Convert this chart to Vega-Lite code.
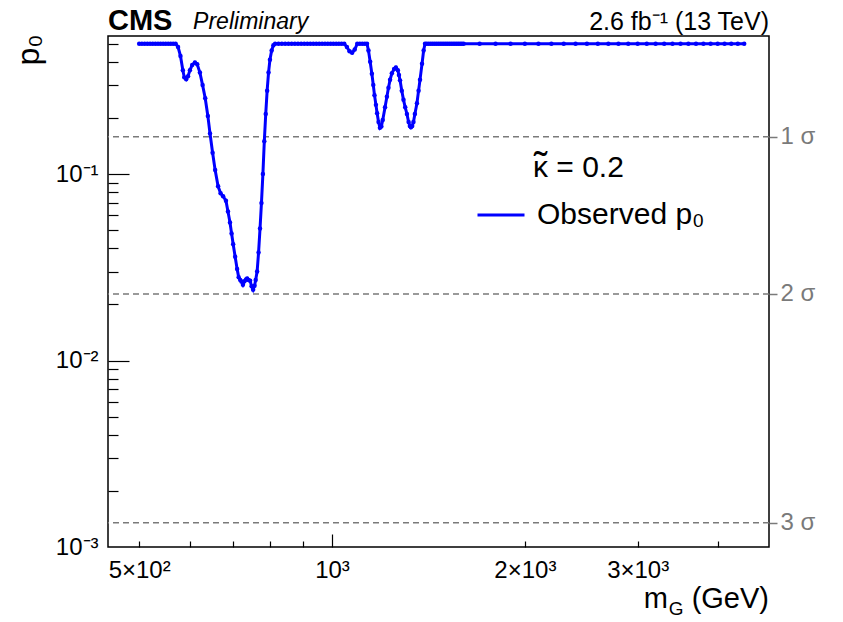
{
  "$schema": "https://vega.github.io/schema/vega-lite/v6.json",
  "width": 661,
  "height": 511,
  "autosize": {"type": "none"},
  "padding": {"left": 108, "top": 36, "right": 74, "bottom": 75},
  "background": "white",
  "config": {
    "font": "Liberation Sans",
    "view": {"stroke": "#000", "strokeWidth": 1.5},
    "axis": {"grid": false, "domain": false, "labelColor": "#000", "titleColor": "#000", "tickColor": "#000", "tickWidth": 1.2}
  },
  "datasets": {
    "obs": [
      {"m": 500, "p": 0.5}, {"m": 505, "p": 0.5}, {"m": 510, "p": 0.5}, {"m": 515, "p": 0.5}, {"m": 520, "p": 0.5},
      {"m": 525, "p": 0.5}, {"m": 530, "p": 0.5}, {"m": 535, "p": 0.5}, {"m": 540, "p": 0.5}, {"m": 545, "p": 0.5},
      {"m": 550, "p": 0.5}, {"m": 555, "p": 0.5}, {"m": 560, "p": 0.5}, {"m": 565, "p": 0.5}, {"m": 570, "p": 0.5},
      {"m": 575, "p": 0.48}, {"m": 580, "p": 0.43}, {"m": 585, "p": 0.36}, {"m": 588, "p": 0.33}, {"m": 592, "p": 0.322},
      {"m": 596, "p": 0.335}, {"m": 600, "p": 0.36}, {"m": 605, "p": 0.385}, {"m": 611, "p": 0.397}, {"m": 616, "p": 0.388},
      {"m": 622, "p": 0.35}, {"m": 628, "p": 0.3}, {"m": 634, "p": 0.255}, {"m": 640, "p": 0.205}, {"m": 645, "p": 0.165},
      {"m": 651, "p": 0.13}, {"m": 657, "p": 0.105}, {"m": 664, "p": 0.086}, {"m": 670, "p": 0.079}, {"m": 676, "p": 0.076},
      {"m": 683, "p": 0.072}, {"m": 688, "p": 0.063}, {"m": 693, "p": 0.055}, {"m": 697, "p": 0.048}, {"m": 701, "p": 0.042},
      {"m": 706, "p": 0.036}, {"m": 711, "p": 0.031}, {"m": 715, "p": 0.028}, {"m": 719, "p": 0.027}, {"m": 722, "p": 0.0265},
      {"m": 726, "p": 0.0255}, {"m": 730, "p": 0.0266}, {"m": 734, "p": 0.0272}, {"m": 737, "p": 0.0275}, {"m": 741, "p": 0.027},
      {"m": 745, "p": 0.0268}, {"m": 749, "p": 0.025}, {"m": 753, "p": 0.024}, {"m": 757, "p": 0.0252}, {"m": 760, "p": 0.027},
      {"m": 764, "p": 0.03}, {"m": 768, "p": 0.038}, {"m": 772, "p": 0.051}, {"m": 776, "p": 0.07}, {"m": 780, "p": 0.1},
      {"m": 784, "p": 0.15}, {"m": 788, "p": 0.21}, {"m": 792, "p": 0.28}, {"m": 796, "p": 0.35}, {"m": 800, "p": 0.41},
      {"m": 805, "p": 0.46}, {"m": 810, "p": 0.49}, {"m": 815, "p": 0.5},
      {"m": 825, "p": 0.5}, {"m": 835, "p": 0.5}, {"m": 845, "p": 0.5}, {"m": 855, "p": 0.5}, {"m": 865, "p": 0.5},
      {"m": 875, "p": 0.5}, {"m": 885, "p": 0.5}, {"m": 895, "p": 0.5}, {"m": 905, "p": 0.5}, {"m": 915, "p": 0.5},
      {"m": 925, "p": 0.5}, {"m": 935, "p": 0.5}, {"m": 945, "p": 0.5}, {"m": 955, "p": 0.5}, {"m": 965, "p": 0.5},
      {"m": 975, "p": 0.5}, {"m": 985, "p": 0.5}, {"m": 995, "p": 0.5}, {"m": 1005, "p": 0.5}, {"m": 1015, "p": 0.5},
      {"m": 1025, "p": 0.5}, {"m": 1035, "p": 0.5}, {"m": 1045, "p": 0.5},
      {"m": 1055, "p": 0.48}, {"m": 1065, "p": 0.455}, {"m": 1075, "p": 0.447}, {"m": 1085, "p": 0.465}, {"m": 1095, "p": 0.5},
      {"m": 1105, "p": 0.5}, {"m": 1115, "p": 0.5}, {"m": 1125, "p": 0.5}, {"m": 1134, "p": 0.5},
      {"m": 1140, "p": 0.46}, {"m": 1147, "p": 0.4}, {"m": 1154, "p": 0.345}, {"m": 1160, "p": 0.3}, {"m": 1165, "p": 0.265},
      {"m": 1171, "p": 0.235}, {"m": 1176, "p": 0.212}, {"m": 1182, "p": 0.19}, {"m": 1188, "p": 0.177}, {"m": 1194, "p": 0.18},
      {"m": 1200, "p": 0.195}, {"m": 1210, "p": 0.228}, {"m": 1218, "p": 0.26}, {"m": 1225, "p": 0.29}, {"m": 1232, "p": 0.32},
      {"m": 1240, "p": 0.347}, {"m": 1250, "p": 0.366}, {"m": 1258, "p": 0.373}, {"m": 1267, "p": 0.36}, {"m": 1272, "p": 0.34},
      {"m": 1277, "p": 0.318}, {"m": 1285, "p": 0.28}, {"m": 1293, "p": 0.25}, {"m": 1301, "p": 0.228}, {"m": 1309, "p": 0.21},
      {"m": 1317, "p": 0.19}, {"m": 1323, "p": 0.181}, {"m": 1328, "p": 0.178}, {"m": 1334, "p": 0.181}, {"m": 1340, "p": 0.19},
      {"m": 1347, "p": 0.21}, {"m": 1357, "p": 0.24}, {"m": 1365, "p": 0.28}, {"m": 1372, "p": 0.32}, {"m": 1382, "p": 0.39},
      {"m": 1390, "p": 0.46}, {"m": 1397, "p": 0.5},
      {"m": 1405, "p": 0.5}, {"m": 1415, "p": 0.5}, {"m": 1425, "p": 0.5}, {"m": 1435, "p": 0.5}, {"m": 1445, "p": 0.5},
      {"m": 1455, "p": 0.5}, {"m": 1465, "p": 0.5}, {"m": 1475, "p": 0.5}, {"m": 1485, "p": 0.5}, {"m": 1495, "p": 0.5},
      {"m": 1505, "p": 0.5}, {"m": 1515, "p": 0.5}, {"m": 1525, "p": 0.5}, {"m": 1535, "p": 0.5}, {"m": 1545, "p": 0.5},
      {"m": 1555, "p": 0.5}, {"m": 1565, "p": 0.5}, {"m": 1575, "p": 0.5}, {"m": 1585, "p": 0.5}, {"m": 1595, "p": 0.5},
      {"m": 1605, "p": 0.5},
      {"m": 1700, "p": 0.5}, {"m": 1800, "p": 0.5}, {"m": 1900, "p": 0.5}, {"m": 2000, "p": 0.5}, {"m": 2100, "p": 0.5},
      {"m": 2200, "p": 0.5}, {"m": 2300, "p": 0.5}, {"m": 2400, "p": 0.5}, {"m": 2500, "p": 0.5}, {"m": 2600, "p": 0.5},
      {"m": 2700, "p": 0.5}, {"m": 2800, "p": 0.5}, {"m": 2900, "p": 0.5}, {"m": 3000, "p": 0.5}, {"m": 3100, "p": 0.5},
      {"m": 3200, "p": 0.5}, {"m": 3300, "p": 0.5}, {"m": 3400, "p": 0.5}, {"m": 3500, "p": 0.5}, {"m": 3600, "p": 0.5},
      {"m": 3700, "p": 0.5}, {"m": 3800, "p": 0.5}, {"m": 3900, "p": 0.5}, {"m": 4000, "p": 0.5}, {"m": 4100, "p": 0.5},
      {"m": 4200, "p": 0.5}, {"m": 4300, "p": 0.5}, {"m": 4400, "p": 0.5}
    ],
    "sigma": [
      {"p": 0.158655, "label": "1 σ"},
      {"p": 0.02275, "label": "2 σ"},
      {"p": 0.0013499, "label": "3 σ"}
    ],
    "one": [{}]
  },
  "layer": [
    {
      "data": {"name": "sigma"},
      "mark": {"type": "rule", "strokeDash": [6, 4], "strokeWidth": 1.5, "color": "#7a7a7a"},
      "encoding": {
        "y": {
          "field": "p", "type": "quantitative",
          "scale": {"type": "log", "domain": [0.001, 0.55], "nice": false},
          "axis": {
            "orient": "right", "values": [0.158655, 0.02275, 0.0013499],
            "labelExpr": "datum.value > 0.1 ? '1 σ' : (datum.value > 0.01 ? '2 σ' : '3 σ')",
            "title": null, "tickSize": 8, "tickWidth": 1.5, "tickColor": "#7a7a7a",
            "labelColor": "#7a7a7a", "labelFontSize": 24, "labelPadding": 3
          }
        }
      }
    },
    {
      "data": {"name": "obs"},
      "mark": {"type": "line", "strokeWidth": 3},
      "encoding": {
        "x": {
          "field": "m", "type": "quantitative",
          "scale": {"type": "log", "domain": [447, 4810], "nice": false},
          "axis": {
            "orient": "bottom", "values": [500, 1000, 2000, 3000],
            "labelExpr": "datum.value < 700 ? '5×10²' : (datum.value < 1500 ? '10³' : (datum.value < 2500 ? '2×10³' : '3×10³'))",
            "ticks": false, "labelFontSize": 24, "labelPadding": 11, "title": null
          }
        },
        "y": {
          "field": "p", "type": "quantitative",
          "scale": {"type": "log", "domain": [0.001, 0.55], "nice": false},
          "axis": {
            "orient": "left", "values": [0.1, 0.01, 0.001],
            "labelExpr": "datum.value > 0.05 ? '10⁻¹' : (datum.value > 0.005 ? '10⁻²' : '10⁻³')",
            "ticks": false, "labelFontSize": 24, "labelPadding": 10,
            "title": "p₀", "titleFontSize": 32, "titleFontWeight": "normal",
            "titleAngle": -90, "titleAlign": "right", "titleBaseline": "middle", "titleX": -80, "titleY": -2
          }
        },
        "color": {
          "datum": "Observed p₀",
          "scale": {"domain": ["Observed p₀"], "range": ["#0000ff"]},
          "legend": {
            "orient": "none", "legendX": 368, "legendY": 154, "title": null, "padding": 0,
            "symbolType": "stroke", "symbolSize": 2209, "symbolStrokeWidth": 3,
            "labelFontSize": 30, "labelOffset": 11, "labelColor": "#000", "labelLimit": 400
          }
        }
      }
    },
    {
      "data": {"name": "obs"},
      "mark": {"type": "point", "filled": true, "size": 20, "color": "#0000ff", "opacity": 1},
      "encoding": {
        "x": {
          "field": "m", "type": "quantitative",
          "scale": {"type": "log", "domain": [447, 4810], "nice": false},
          "axis": {"orient": "bottom", "values": [1000], "labels": false, "tickSize": -13, "title": null}
        },
        "y": {
          "field": "p", "type": "quantitative",
          "scale": {"type": "log", "domain": [0.001, 0.55], "nice": false},
          "axis": {"orient": "left", "values": [0.1, 0.01], "labels": false, "tickSize": -21, "title": null}
        }
      }
    },
    {
      "data": {"name": "obs"},
      "mark": {"type": "point", "opacity": 0},
      "encoding": {
        "x": {
          "field": "m", "type": "quantitative",
          "scale": {"type": "log", "domain": [447, 4810], "nice": false},
          "axis": {"orient": "bottom", "values": [500, 600, 700, 800, 900, 2000, 3000, 4000], "labels": false, "tickSize": -6, "title": null}
        },
        "y": {
          "field": "p", "type": "quantitative",
          "scale": {"type": "log", "domain": [0.001, 0.55], "nice": false},
          "axis": {
            "orient": "left",
            "values": [0.002, 0.003, 0.004, 0.005, 0.006, 0.007, 0.008, 0.009, 0.02, 0.03, 0.04, 0.05, 0.06, 0.07, 0.08, 0.09, 0.2, 0.3, 0.4, 0.5],
            "labels": false, "tickSize": -10, "title": null
          }
        }
      }
    },
    {
      "data": {"name": "one"},
      "mark": {"type": "text", "text": "CMS", "fontSize": 29, "fontWeight": "bold", "align": "left", "baseline": "alphabetic", "dy": -6, "color": "#000"},
      "encoding": {
        "x": {"datum": 447, "type": "quantitative", "scale": {"type": "log", "domain": [447, 4810], "nice": false}, "axis": null},
        "y": {"datum": 0.55, "type": "quantitative", "scale": {"type": "log", "domain": [0.001, 0.55], "nice": false}, "axis": null}
      }
    },
    {
      "data": {"name": "one"},
      "mark": {"type": "text", "text": "Preliminary", "fontSize": 23, "fontStyle": "italic", "align": "left", "baseline": "alphabetic", "dy": -7, "color": "#000"},
      "encoding": {
        "x": {"datum": 607, "type": "quantitative", "scale": {"type": "log", "domain": [447, 4810], "nice": false}, "axis": null},
        "y": {"datum": 0.55, "type": "quantitative", "scale": {"type": "log", "domain": [0.001, 0.55], "nice": false}, "axis": null}
      }
    },
    {
      "data": {"name": "one"},
      "mark": {"type": "text", "text": "2.6 fb⁻¹ (13 TeV)", "fontSize": 25, "align": "right", "baseline": "alphabetic", "dy": -6, "color": "#000"},
      "encoding": {
        "x": {"datum": 4810, "type": "quantitative", "scale": {"type": "log", "domain": [447, 4810], "nice": false}, "axis": null},
        "y": {"datum": 0.55, "type": "quantitative", "scale": {"type": "log", "domain": [0.001, 0.55], "nice": false}, "axis": null}
      }
    },
    {
      "data": {"name": "one"},
      "mark": {"type": "text", "text": "κ = 0.2", "fontSize": 30, "align": "left", "baseline": "alphabetic", "color": "#000"},
      "encoding": {
        "x": {"datum": 2059, "type": "quantitative", "scale": {"type": "log", "domain": [447, 4810], "nice": false}, "axis": null},
        "y": {"datum": 0.0964, "type": "quantitative", "scale": {"type": "log", "domain": [0.001, 0.55], "nice": false}, "axis": null}
      }
    },
    {
      "data": {"name": "one"},
      "mark": {"type": "text", "text": "˜", "fontSize": 40, "align": "left", "baseline": "alphabetic", "dx": 1, "dy": 3, "color": "#000"},
      "encoding": {
        "x": {"datum": 2059, "type": "quantitative", "scale": {"type": "log", "domain": [447, 4810], "nice": false}, "axis": null},
        "y": {"datum": 0.0964, "type": "quantitative", "scale": {"type": "log", "domain": [0.001, 0.55], "nice": false}, "axis": null}
      }
    },
    {
      "data": {"name": "one"},
      "mark": {"type": "text", "text": "m", "fontSize": 29, "align": "right", "baseline": "alphabetic", "dy": 61, "color": "#000"},
      "encoding": {
        "x": {"datum": 3344, "type": "quantitative", "scale": {"type": "log", "domain": [447, 4810], "nice": false}, "axis": null},
        "y": {"datum": 0.001, "type": "quantitative", "scale": {"type": "log", "domain": [0.001, 0.55], "nice": false}, "axis": null}
      }
    },
    {
      "data": {"name": "one"},
      "mark": {"type": "text", "text": "G", "fontSize": 19, "align": "left", "baseline": "alphabetic", "dy": 68, "color": "#000"},
      "encoding": {
        "x": {"datum": 3356, "type": "quantitative", "scale": {"type": "log", "domain": [447, 4810], "nice": false}, "axis": null},
        "y": {"datum": 0.001, "type": "quantitative", "scale": {"type": "log", "domain": [0.001, 0.55], "nice": false}, "axis": null}
      }
    },
    {
      "data": {"name": "one"},
      "mark": {"type": "text", "text": "(GeV)", "fontSize": 29, "align": "right", "baseline": "alphabetic", "dy": 61, "color": "#000"},
      "encoding": {
        "x": {"datum": 4810, "type": "quantitative", "scale": {"type": "log", "domain": [447, 4810], "nice": false}, "axis": null},
        "y": {"datum": 0.001, "type": "quantitative", "scale": {"type": "log", "domain": [0.001, 0.55], "nice": false}, "axis": null}
      }
    }
  ],
  "resolve": {"axis": {"x": "independent", "y": "independent"}}
}
